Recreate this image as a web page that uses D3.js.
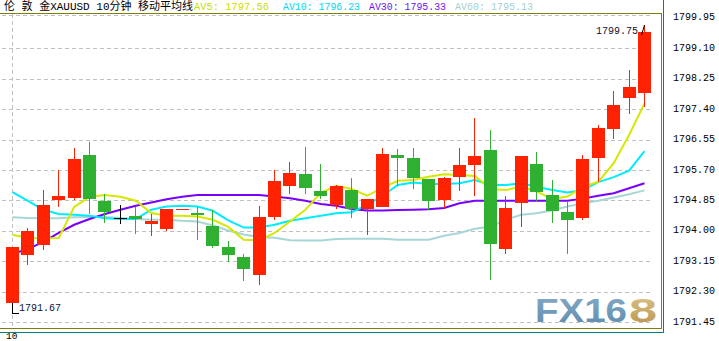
<!DOCTYPE html>
<html><head><meta charset="utf-8">
<script src="https://cdn.jsdelivr.net/npm/d3@7"></script>
<style>body{margin:0;background:#fff}svg{display:block}</style>
</head><body><svg id="c" width="719" height="341"></svg>
<script>
const opens  = [1791.99,1793.33,1793.61,1794.86,1794.92,1796.12,1794.84,1794.36,1794.42,1794.20,1794.06,1794.60,1794.50,1794.14,1793.55,1793.28,1792.77,1794.39,1795.25,1795.59,1795.11,1794.72,1795.14,1794.61,1794.67,1796.12,1796.03,1795.45,1794.86,1795.50,1795.84,1796.26,1793.50,1794.78,1795.87,1795.00,1794.53,1794.36,1796.03,1796.84,1797.71,1797.85];
const highs  = [1793.55,1794.08,1795.14,1795.70,1796.31,1796.48,1795.03,1794.72,1794.67,1794.47,1794.61,1794.62,1794.67,1794.59,1793.72,1793.36,1794.70,1795.70,1795.92,1796.34,1795.87,1795.28,1795.48,1794.89,1796.31,1796.29,1796.31,1795.45,1795.50,1796.31,1797.15,1796.81,1794.98,1796.09,1796.20,1795.42,1794.84,1796.12,1796.95,1797.90,1798.49,1799.75];
const lows   = [1791.67,1793.05,1793.47,1794.67,1794.86,1794.47,1794.22,1794.20,1793.92,1793.86,1794.00,1794.60,1793.75,1793.53,1793.14,1792.61,1792.49,1794.31,1795.03,1795.03,1794.89,1794.61,1794.36,1793.89,1794.67,1795.25,1795.17,1794.59,1794.64,1795.11,1794.98,1792.63,1793.36,1794.11,1794.84,1794.22,1793.36,1794.31,1795.37,1796.56,1797.26,1797.46];
const closes = [1793.55,1794.00,1794.72,1794.98,1796.01,1794.89,1794.53,1794.36,1794.33,1794.28,1794.61,1794.62,1794.45,1793.58,1793.33,1792.94,1794.39,1795.39,1795.62,1795.20,1794.98,1795.25,1794.61,1794.89,1796.15,1796.03,1795.48,1794.84,1795.48,1795.84,1796.09,1793.64,1794.64,1796.09,1795.09,1794.56,1794.31,1796.01,1796.87,1797.51,1798.01,1799.55];
const ma5  = [1793.89,1793.80,1793.79,1793.80,1794.67,1794.95,1795.00,1794.95,1794.84,1794.50,1794.42,1794.42,1794.40,1794.31,1794.11,1793.75,1793.73,1793.94,1794.26,1794.59,1795.06,1795.26,1795.17,1794.98,1795.20,1795.40,1795.42,1795.51,1795.58,1795.56,1795.53,1795.17,1795.14,1795.23,1795.10,1794.89,1794.96,1795.23,1795.37,1795.89,1796.68,1797.56];
const ma10 = [1795.08,1794.84,1794.59,1794.47,1794.45,1794.42,1794.35,1794.33,1794.33,1794.59,1794.68,1794.70,1794.68,1794.56,1794.29,1794.09,1794.09,1794.17,1794.28,1794.35,1794.42,1794.49,1794.52,1794.72,1794.98,1795.28,1795.35,1795.31,1795.31,1795.33,1795.42,1795.28,1795.28,1795.33,1795.23,1795.14,1795.07,1795.14,1795.36,1795.50,1795.68,1796.23];
const ma30 = [1793.36,1793.49,1793.69,1793.94,1794.17,1794.33,1794.47,1794.59,1794.70,1794.79,1794.88,1794.95,1795.00,1795.00,1795.00,1795.00,1795.00,1794.96,1794.91,1794.84,1794.75,1794.70,1794.61,1794.57,1794.57,1794.58,1794.59,1794.60,1794.64,1794.77,1794.84,1794.84,1794.84,1794.84,1794.84,1794.84,1794.84,1794.90,1794.98,1795.05,1795.19,1795.33];
const ma60 = [1794.38,1794.36,1794.35,1794.35,1794.38,1794.39,1794.39,1794.36,1794.33,1794.31,1794.31,1794.28,1794.26,1794.15,1794.01,1793.90,1793.83,1793.81,1793.74,1793.73,1793.73,1793.77,1793.78,1793.78,1793.78,1793.75,1793.75,1793.75,1793.86,1793.94,1794.06,1794.12,1794.31,1794.45,1794.49,1794.57,1794.68,1794.77,1794.84,1794.93,1795.02,1795.13];
const yTicks = [1799.95,1799.10,1798.25,1797.40,1796.55,1795.70,1794.85,1794.00,1793.15,1792.30,1791.45];
const titleText = "伦 敦 金XAUUSD 10分钟 移动平均线";
const legendItems = [
  {label:"AV5: 1797.56", color:"#cadc00", x:194, len:75},
  {label:"AV10: 1796.23", color:"#00d8ea", x:283, len:77},
  {label:"AV30: 1795.33", color:"#7010f0", x:369, len:77},
  {label:"AV60: 1795.13", color:"#a4d0d0", x:455, len:78}
];
const timeLabel = "10";

const svg = d3.select('#c');
const y = d3.scaleLinear().domain([1791.45,1799.95]).range([322.1,17.9]);
const x = d3.scaleLinear().domain([0,opens.length-1]).range([12.5,644.5]);
const mono = "'Liberation Mono','DejaVu Sans Mono',monospace";

// defs for logo
const defs = svg.append('defs');
const gB = defs.append('linearGradient').attr('id','gb').attr('x1',0).attr('y1',0).attr('x2',0).attr('y2',1);
gB.append('stop').attr('offset','0%').attr('stop-color','#86acc8');
gB.append('stop').attr('offset','100%').attr('stop-color','#5d8aac');
const gG = defs.append('linearGradient').attr('id','gg').attr('x1',0).attr('y1',0).attr('x2',0).attr('y2',1);
gG.append('stop').attr('offset','0%').attr('stop-color','#ddc58a');
gG.append('stop').attr('offset','100%').attr('stop-color','#b8934a');

// gridlines
const grid = svg.append('g').attr('stroke','#c0c0c0').attr('stroke-dasharray','4,3').attr('shape-rendering','crispEdges');
grid.append('line').attr('x1',2).attr('x2',650).attr('y1',15.5).attr('y2',15.5);
yTicks.slice(1).forEach(v=>{
  const yy = Math.round(y(v))+0.5;
  grid.append('line').attr('x1',2).attr('x2',650).attr('y1',yy).attr('y2',yy);
});
grid.append('line').attr('x1',12.5).attr('x2',12.5).attr('y1',14).attr('y2',328);

// logo watermark
svg.append('text').attr('x',535).attr('y',322).attr('font-family',"'Liberation Sans',Arial,sans-serif")
  .attr('font-weight','bold').attr('font-size',33).attr('fill','url(#gb)')
  .attr('textLength',92).attr('lengthAdjust','spacingAndGlyphs').text('FX16');
svg.append('text').attr('x',629).attr('y',322).attr('font-family',"'Liberation Sans',Arial,sans-serif")
  .attr('font-weight','bold').attr('font-size',33).attr('fill','url(#gg)')
  .attr('textLength',28).attr('lengthAdjust','spacingAndGlyphs').text('8');

// moving averages
const line = d3.line().x((d,i)=>x(i)).y(d=>y(d));
[[ma60,'#a8d6d6'],[ma30,'#7800ff'],[ma10,'#00ecfc'],[ma5,'#d6e800']].forEach(([arr,col])=>{
  svg.append('path').attr('d',line(arr)).attr('fill','none').attr('stroke',col).attr('stroke-width',2);
});

// candles
const cg = svg.append('g').attr('shape-rendering','crispEdges');
opens.forEach((o,i)=>{
  const c = closes[i];
  const col = c>o ? '#ff2200' : (c<o ? '#30b030' : '#000000');
  const left = Math.round(x(i)-6.5);
  const cx = left+6.5;
  cg.append('line').attr('x1',cx).attr('x2',cx)
    .attr('y1',Math.round(y(highs[i]))).attr('y2',Math.round(y(lows[i]))).attr('stroke',col).attr('stroke-width',1);
  const top = Math.round(y(Math.max(o,c)));
  const bot = Math.round(y(Math.min(o,c)));
  if (c===o) {
    cg.append('line').attr('x1',left).attr('x2',left+13).attr('y1',top+0.5).attr('y2',top+0.5).attr('stroke',col);
  } else {
    cg.append('rect').attr('x',left).attr('y',top).attr('width',13).attr('height',Math.max(1,bot-top)).attr('fill',col);
  }
});

// low / high markers
const iLow = 0, iHigh = opens.length-1;
const lx = Math.round(x(iLow)-6.5)+6.5;
svg.append('path').attr('d',`M${lx},${Math.round(y(opens[iLow]))}V${Math.round(y(lows[iLow]))-0.5}H${lx+6}`)
  .attr('stroke','#000').attr('fill','none').attr('shape-rendering','crispEdges');
svg.append('text').attr('x',19).attr('y',Math.round(y(lows[iLow]))-3).attr('font-family',mono).attr('font-size',10)
  .attr('fill','#101030').text(lows[iLow].toFixed(2));
const hx = Math.round(x(iHigh)-6.5)+6.5;
svg.append('line').attr('x1',hx-3).attr('y1',y(highs[iHigh])+10).attr('x2',hx).attr('y2',y(highs[iHigh])).attr('stroke','#000');
svg.append('text').attr('x',596).attr('y',y(highs[iHigh])+9).attr('font-family',mono).attr('font-size',10)
  .attr('fill','#101030').text(highs[iHigh].toFixed(2));

// frame
const fr = svg.append('g').attr('shape-rendering','crispEdges').attr('fill','none');
fr.append('path').attr('d','M0,13.5H661.5V328.5H0').attr('stroke','#808000');
fr.append('path').attr('d','M663.5,0V332.5H0').attr('stroke','#008080');

// y axis labels
yTicks.forEach(v=>{
  svg.append('text').attr('x',673).attr('y',y(v)+2.5).attr('font-family',mono).attr('font-size',10)
    .attr('fill','#000').text(v.toFixed(2));
});

// time label
svg.append('text').attr('x',6).attr('y',339).attr('font-family',mono).attr('font-size',9.5).attr('fill','#000').text(timeLabel);

// legend
svg.append('text').attr('x',4).attr('y',10).attr('font-family',"'Liberation Mono','Noto Sans CJK SC',monospace")
  .attr('font-size',11.5).attr('fill','#000').attr('textLength',189).attr('lengthAdjust','spacingAndGlyphs').text(titleText);
legendItems.forEach(d=>{
  svg.append('text').attr('x',d.x).attr('y',10).attr('font-family',mono).attr('font-size',11)
    .attr('fill',d.color).attr('textLength',d.len).attr('lengthAdjust','spacingAndGlyphs').text(d.label);
});
</script></body></html>
